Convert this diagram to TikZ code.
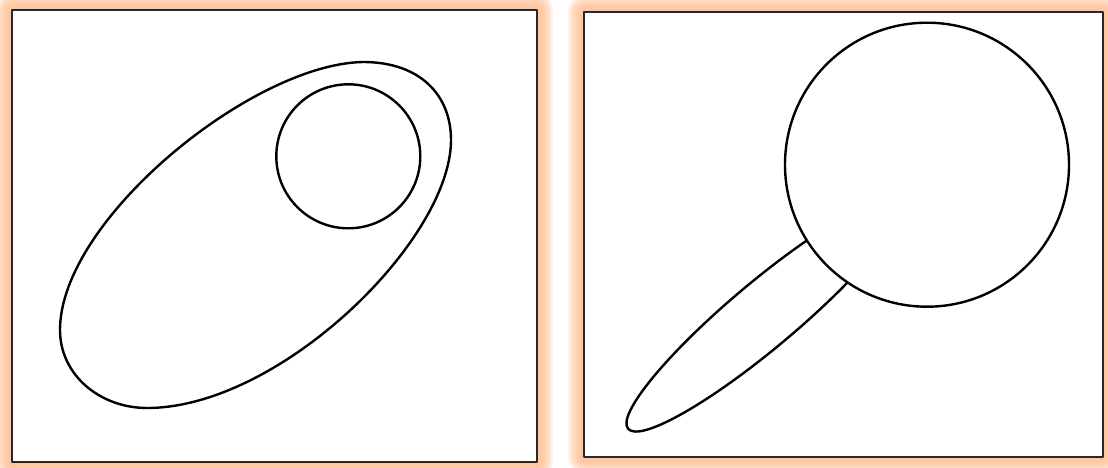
\documentclass[tikz,border=0pt]{standalone}
\usetikzlibrary{calc}
\definecolor{GlowOrange}{RGB}{255,185,135}
\definecolor{FrameGray}{RGB}{40,40,40}
\def\lw{2.4pt}

\begin{document}
\begin{tikzpicture}[x=1pt, y=-1pt, line join=round,
    outline/.style={draw=black, line width=\lw}]
\useasboundingbox (0,0) rectangle (1108,468);

% frames with soft orange glow
\foreach \xa/\ya/\xb/\yb in {12/10/537/462, 584/12/1103/457}{
  \foreach \g in {16,14,...,2}
    \fill[GlowOrange, opacity=0.2, rounded corners=\g pt] (\xa-\g,\ya-\g) rectangle (\xb+\g,\yb+\g);
  \fill[white] (\xa,\ya) rectangle (\xb,\yb);
  \draw[FrameGray, line width=1.6pt] (\xa,\ya) rectangle (\xb,\yb);
}

% left: egg with small circle inside
\coordinate (eggTop) at (363,62);
\coordinate (eggRight) at (451,140);
\coordinate (eggBottom) at (147,408);
\coordinate (eggLeft) at (60,330);
\coordinate (eyeC) at (348.3,156.3);
\draw[outline] (eggTop) .. controls (420,62) and (451,95) .. (eggRight)
  .. controls (451,240) and (280,408) .. (eggBottom)
  .. controls (100,408) and (60,375) .. (eggLeft)
  .. controls (60,220) and (252,64) .. (eggTop) -- cycle;
\draw[outline] (eyeC) circle[radius=72];

% right: lens with handle
\coordinate (handleC) at (763.7,315);
\coordinate (lensC) at (927,164.7);
\draw[outline, rotate around={40:(handleC)}] (handleC) ellipse[x radius=177, y radius=33];
\draw[outline, fill=white] (lensC) circle[radius=142];

\end{tikzpicture}
\end{document}
